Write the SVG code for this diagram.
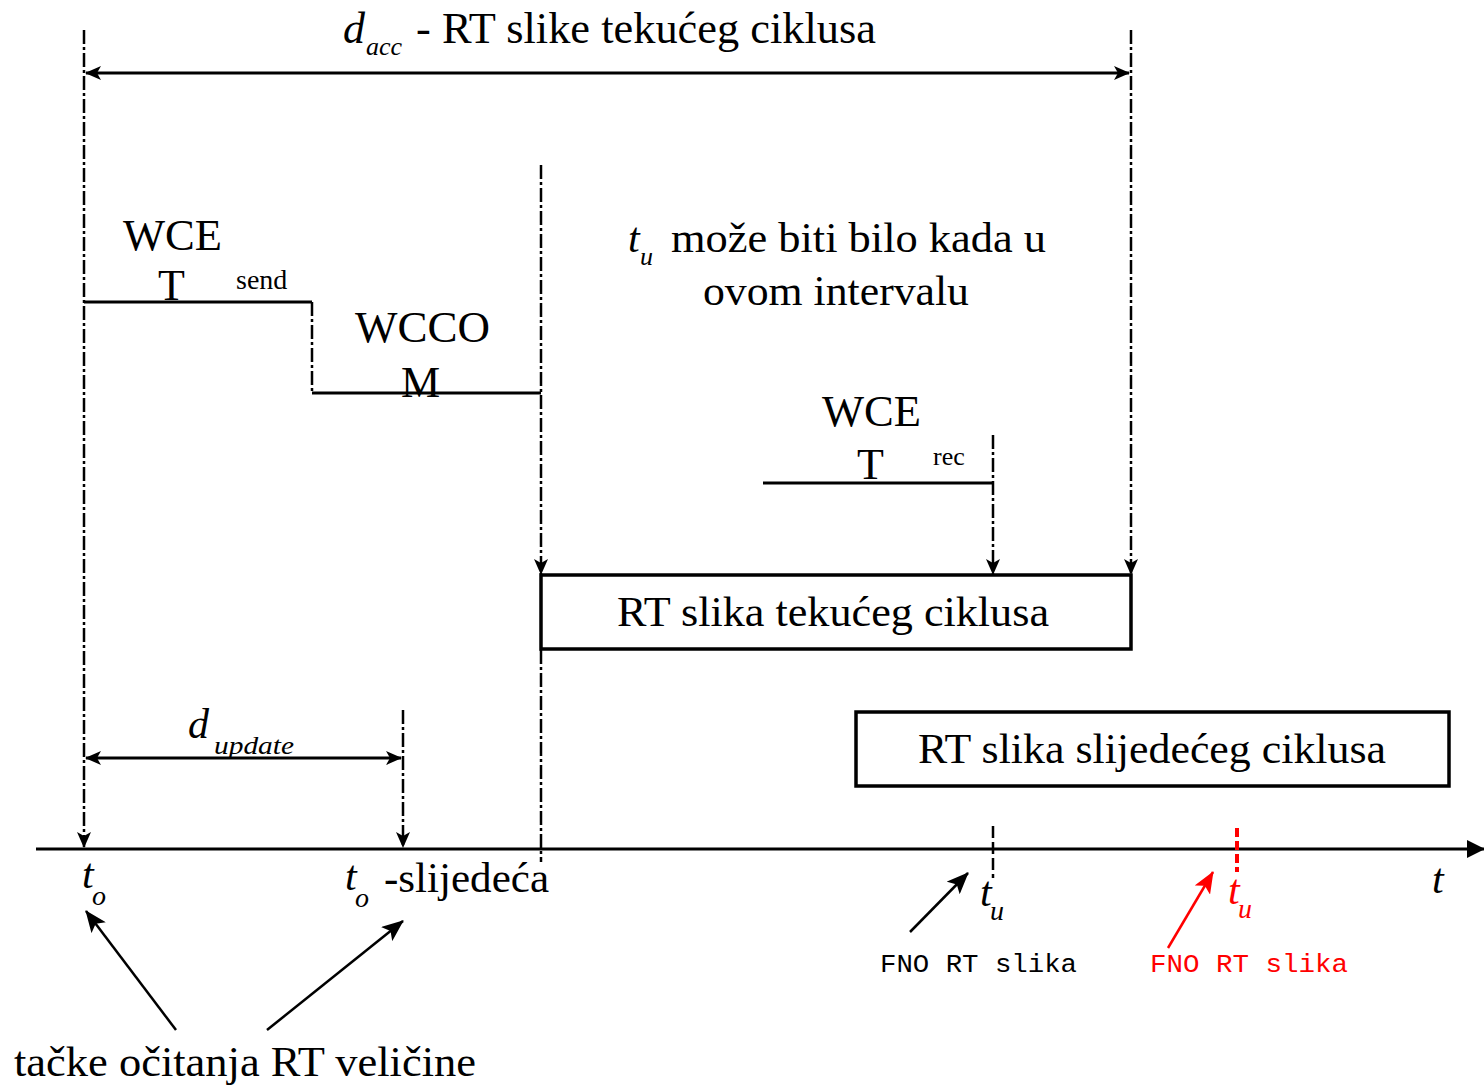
<svg xmlns="http://www.w3.org/2000/svg" width="1484" height="1088" viewBox="0 0 1484 1088">
<style>
.t{font-family:"Liberation Serif","Times New Roman",serif;fill:#000}
.i{font-style:italic}
.m{font-family:"Liberation Mono","Courier New",monospace;fill:#000}
.ln{stroke:#000;stroke-width:3;fill:none}
.dd{stroke:#000;stroke-width:2.5;fill:none;stroke-dasharray:14 3 3 3}
.box{stroke:#000;stroke-width:3.5;fill:#fff}
.red{fill:#f00}
</style>
<defs>
<marker id="a" viewBox="0 0 16 14" refX="15" refY="7" markerWidth="16" markerHeight="14" markerUnits="userSpaceOnUse" orient="auto-start-reverse">
<path d="M0,0 L16,7 L0,14 L4,7 z" fill="#000"/>
</marker>
<marker id="big" viewBox="0 0 18 18" refX="17" refY="9" markerWidth="18" markerHeight="18" markerUnits="userSpaceOnUse" orient="auto">
<path d="M0,0 L18,9 L0,18 z" fill="#000"/>
</marker>
<marker id="ptr" viewBox="0 0 22 18" refX="21" refY="9" markerWidth="22" markerHeight="18" markerUnits="userSpaceOnUse" orient="auto">
<path d="M0,0 L22,9 L0,18 L5,9 z" fill="#000"/>
</marker>
<marker id="ptrR" viewBox="0 0 22 18" refX="21" refY="9" markerWidth="22" markerHeight="18" markerUnits="userSpaceOnUse" orient="auto">
<path d="M0,0 L22,9 L0,18 L5,9 z" fill="#f00"/>
</marker>
</defs>

<g id="connectors">
<line class="ln" x1="36" y1="849" x2="1484" y2="849" marker-end="url(#big)"/>
<line class="dd" x1="84" y1="30" x2="84" y2="847" marker-end="url(#a)"/>
<line class="dd" x1="1131" y1="30" x2="1131" y2="574" marker-end="url(#a)"/>
<line class="ln" x1="86" y1="73" x2="1129" y2="73" marker-start="url(#a)" marker-end="url(#a)"/>
<line class="dd" x1="541" y1="165" x2="541" y2="574" marker-end="url(#a)"/>
<line class="dd" x1="541" y1="650" x2="541" y2="862"/>
<path class="ln" d="M84,302 H312"/>
<line class="dd" x1="312" y1="302" x2="312" y2="393"/>
<path class="ln" d="M312,393 H541"/>
<path class="ln" d="M763,483 H993"/>
<line class="dd" x1="993" y1="435" x2="993" y2="574" marker-end="url(#a)"/>
<line class="dd" x1="403" y1="710" x2="403" y2="847" marker-end="url(#a)"/>
<line class="ln" x1="86" y1="758" x2="401" y2="758" stroke-width="2.5" marker-start="url(#a)" marker-end="url(#a)"/>
<line x1="993" y1="826" x2="993" y2="878" stroke="#000" stroke-width="2.5" stroke-dasharray="12 4"/>
<line x1="1237" y1="828" x2="1237" y2="872" stroke="#f00" stroke-width="4" stroke-dasharray="9 4"/>
<line x1="176" y1="1030" x2="86" y2="911" stroke="#000" stroke-width="2.5" marker-end="url(#ptr)"/>
<line x1="267" y1="1030" x2="403" y2="921" stroke="#000" stroke-width="2.5" marker-end="url(#ptr)"/>
<line x1="910" y1="932" x2="968" y2="873" stroke="#000" stroke-width="2.5" marker-end="url(#ptr)"/>
<line x1="1168" y1="948" x2="1213" y2="872" stroke="#f00" stroke-width="2.5" marker-end="url(#ptrR)"/>
</g>

<g id="title">
<text class="t i" x="343" y="43" font-size="44">d</text>
<text class="t i" x="366" y="55" font-size="26">acc</text>
<text class="t" x="416" y="43" font-size="44" textLength="460" lengthAdjust="spacingAndGlyphs">-  RT  slike  tekućeg  ciklusa</text>
</g>

<g id="wcet-send">
<text class="t" x="123" y="250" font-size="44" textLength="99" lengthAdjust="spacingAndGlyphs">WCE</text>
<text class="t" x="158" y="300" font-size="44">T</text>
<text class="t" x="236" y="289" font-size="28">send</text>
</g>

<g id="wccom">
<text class="t" x="355" y="342" font-size="44" textLength="135" lengthAdjust="spacingAndGlyphs">WCCO</text>
<text class="t" x="401" y="397" font-size="44">M</text>
</g>

<g id="tu-note">
<text class="t i" x="628" y="252" font-size="42">t</text>
<text class="t i" x="640" y="265" font-size="26">u</text>
<text class="t" x="671" y="252" font-size="42" textLength="375" lengthAdjust="spacingAndGlyphs">može  biti  bilo  kada  u</text>
<text class="t" x="836" y="305" font-size="42" text-anchor="middle" textLength="266" lengthAdjust="spacingAndGlyphs">ovom  intervalu</text>
</g>

<g id="wcet-rec">
<text class="t" x="822" y="426" font-size="44" textLength="99" lengthAdjust="spacingAndGlyphs">WCE</text>
<text class="t" x="857" y="479" font-size="44">T</text>
<text class="t" x="933" y="465" font-size="26">rec</text>
</g>

<g id="box-current">
<rect class="box" x="541" y="575" width="590" height="74"/>
<text class="t" x="833" y="626" font-size="42" text-anchor="middle" textLength="432" lengthAdjust="spacingAndGlyphs">RT  slika  tekućeg  ciklusa</text>
</g>

<g id="box-next">
<rect class="box" x="856" y="712" width="593" height="74"/>
<text class="t" x="1152" y="763" font-size="42" text-anchor="middle" textLength="468" lengthAdjust="spacingAndGlyphs">RT  slika  slijedećeg  ciklusa</text>
</g>

<g id="d-update">
<text class="t i" x="188" y="738" font-size="42">d</text>
<text class="t i" x="214" y="754" font-size="26" textLength="80" lengthAdjust="spacingAndGlyphs">update</text>
</g>

<g id="labels-axis">
<text class="t i" x="82" y="888" font-size="42">t</text>
<text class="t i" x="92" y="905" font-size="28">o</text>
<text class="t i" x="345" y="890" font-size="42">t</text>
<text class="t i" x="355" y="907" font-size="28">o</text>
<text class="t" x="384" y="892" font-size="42" textLength="165" lengthAdjust="spacingAndGlyphs">-slijedeća</text>
<text class="t i" x="980" y="906" font-size="42">t</text>
<text class="t i" x="990" y="920" font-size="28">u</text>
<text class="t i red" x="1228" y="904" font-size="42">t</text>
<text class="t i red" x="1238" y="918" font-size="28">u</text>
<text class="t i" x="1432" y="893" font-size="42">t</text>
<text class="m" x="880" y="972" font-size="26" textLength="197" lengthAdjust="spacingAndGlyphs">FNO RT slika</text>
<text class="m red" x="1150" y="972" font-size="26" textLength="198" lengthAdjust="spacingAndGlyphs">FNO RT slika</text>
<text class="t" x="14" y="1076" font-size="42" textLength="462" lengthAdjust="spacingAndGlyphs">tačke  očitanja  RT  veličine</text>
</g>
</svg>
